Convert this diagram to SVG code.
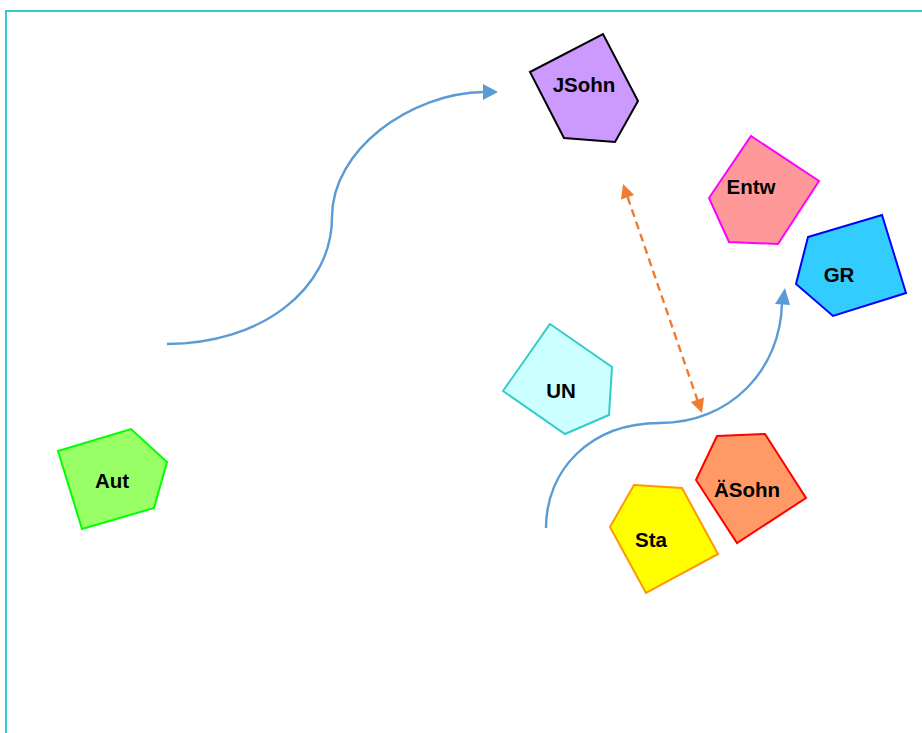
<svg xmlns="http://www.w3.org/2000/svg" width="922" height="733" viewBox="0 0 922 733">
  <style>
    .lbl { font-family: "Liberation Sans", Arial, sans-serif; font-weight: bold; font-size: 20.5px; fill: #000; text-anchor: middle; }
    .shape { stroke-width: 2; stroke-linejoin: miter; }
    .flow { fill: none; stroke: #5B9BD5; stroke-width: 2.4; }
    .flow-head { fill: #5B9BD5; }
    .link { fill: none; stroke: #ED7D31; stroke-width: 2.4; stroke-dasharray: 8 5; }
    .link-head { fill: #ED7D31; }
  </style>

  <rect width="922" height="733" fill="#ffffff"/>
  <!-- frame -->
  <rect x="6" y="11" width="930" height="740" fill="none" stroke="#33CCCC" stroke-width="2"/>

  <g id="connectors">
    <!-- Aut area to JSohn -->
    <path class="flow" d="M167,344 C260,344 332,290 332,217 C332,150 410,93 484,92"/>
    <path class="flow-head" d="M483,84 L498,92 L483,100 Z"/>
    <!-- lower S-curve up to GR -->
    <path class="flow" d="M546,528 C546,470 590,423 660,423 C730,423 781,370 782,302"/>
    <path class="flow-head" d="M775,304 L785,288 L790,305 Z"/>
    <!-- dashed two-way link -->
    <path class="link" d="M627.6,197 L697.4,400"/>
    <path class="link-head" d="M623,184 L634.2,194.9 L621,199.5 Z"/>
    <path class="link-head" d="M702,413 L704,397.5 L690.8,402.1 Z"/>
  </g>

  <g id="JSohn">
    <polygon class="shape" points="530,72 603,34 638,101 615,142 564,138" fill="#CC99FF" stroke="#000000"/>
    <text class="lbl" x="584" y="92">JSohn</text>
  </g>
  <g id="Entw">
    <polygon class="shape" points="751,136 819,181 778,244 729,242 709,198" fill="#FF9999" stroke="#FF00FF"/>
    <text class="lbl" x="751" y="194">Entw</text>
  </g>
  <g id="GR">
    <polygon class="shape" points="808,237 882,215 906,293 833,316 796,284" fill="#33CCFF" stroke="#0000FF"/>
    <text class="lbl" x="839" y="282">GR</text>
  </g>
  <g id="UN">
    <polygon class="shape" points="550,324 612,367 609,415 565,434 503,391" fill="#CCFFFF" stroke="#33CCCC"/>
    <text class="lbl" x="561" y="398">UN</text>
  </g>
  <g id="ASohn">
    <polygon class="shape" points="717,436 765,434 806,498 737,543 696,480" fill="#FF9966" stroke="#FF0000"/>
    <text class="lbl" x="747" y="497">ÄSohn</text>
  </g>
  <g id="Sta">
    <polygon class="shape" points="634,485 682,488 718,554 646,593 610,527" fill="#FFFF00" stroke="#FF9900"/>
    <text class="lbl" x="651" y="547">Sta</text>
  </g>
  <g id="Aut">
    <polygon class="shape" points="58,451 131,429 167,462 154,508 82,529" fill="#99FF66" stroke="#00FF00"/>
    <text class="lbl" x="112" y="488">Aut</text>
  </g>
</svg>
